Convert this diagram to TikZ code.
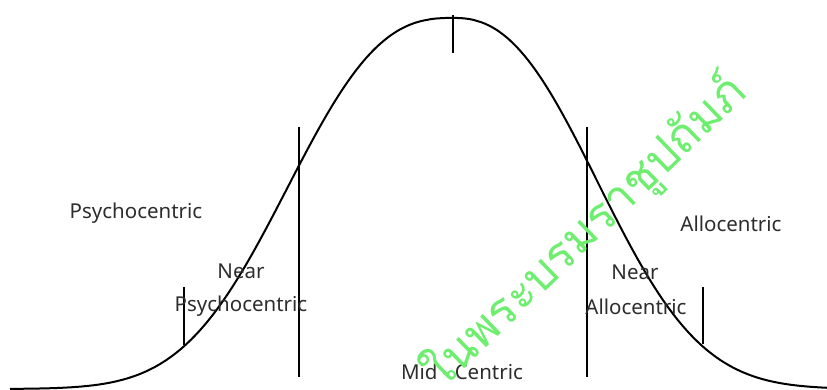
\documentclass[tikz,border=0pt]{standalone}
\usepackage{fontspec}
\setmainfont{Noto Sans}
\newfontfamily\thaifont[Script=Thai]{Loma}
\definecolor{txtgray}{RGB}{45,45,45}
\definecolor{wmgreen}{RGB}{110,238,110}
\begin{document}
\begin{tikzpicture}[x=1pt,y=-1pt,
  lbl/.style={text=txtgray,font=\fontsize{20.5}{24}\selectfont,inner sep=0pt},
  tick/.style={line width=2pt,black},
  curve/.style={line width=2pt,black,line join=round}]
\useasboundingbox (0,0) rectangle (827,390);
% bell curve (left and right halves)
\draw[curve] plot[domain=10:453,samples=160,smooth] (\x,{389-371*exp(-((453.001-\x)/200)^2.6)});
\draw[curve] plot[domain=453:827,samples=140,smooth] (\x,{389-371*exp(-((\x-452.999)/181)^2.4)});
% vertical markers
\coordinate (a1) at (184,287); \coordinate (a2) at (184,345);
\coordinate (b1) at (299,127); \coordinate (b2) at (299,377);
\coordinate (c1) at (453,15);  \coordinate (c2) at (453,53);
\coordinate (d1) at (587,127); \coordinate (d2) at (587,377);
\coordinate (e1) at (703,287); \coordinate (e2) at (703,344);
\draw[tick] (a1) -- (a2);
\draw[tick] (b1) -- (b2);
\draw[tick] (c1) -- (c2);
\draw[tick] (d1) -- (d2);
\draw[tick] (e1) -- (e2);
% labels
\node[lbl] (psy) at (136,213) {Psychocentric};
\node[lbl] (npsy1) at (241,271) {Near};
\node[lbl] (npsy2) at (241,306) {Psychocentric};
\node[lbl] (mid) at (462,372) {Mid - Centric};
\node[lbl] (nall1) at (635,272) {Near};
\node[lbl] (nall2) at (636,307) {Allocentric};
\node[lbl] (all) at (731,224) {Allocentric};
% watermark
\node[text=wmgreen,font=\thaifont\fontsize{47}{52}\selectfont,rotate=44,inner sep=0pt] (wm) at (585,232) {ในพระบรมราชูปถัมภ์};
\end{tikzpicture}
\end{document}
